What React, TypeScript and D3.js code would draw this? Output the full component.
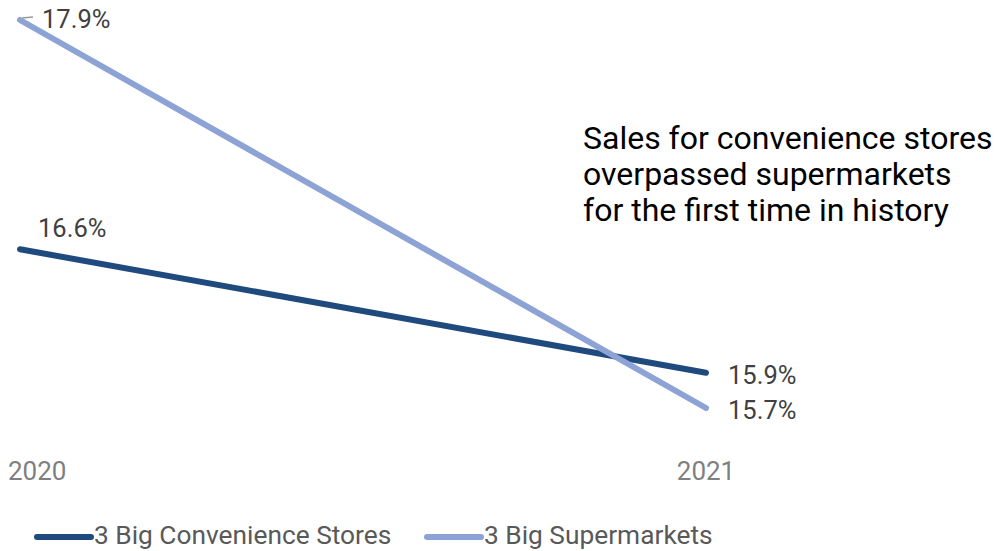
import React from "react";
import * as d3 from "d3";

const years = ["2020", "2021"];
const convenience = [16.6, 15.9];
const supermarkets = [17.9, 15.7];
const seriesNames = ["3 Big Convenience Stores", "3 Big Supermarkets"];
const annotation = [
  "Sales for convenience stores",
  "overpassed supermarkets",
  "for the first time in history",
];

const W = 997;
const H = 551;
const DARK = "#1f4a7e";
const LIGHT = "#8ea3d5";

export default function App() {
  const x = d3.scalePoint<string>().domain(years).range([20, 706]);
  const y = d3.scaleLinear().domain([17.9, 15.7]).range([20, 408]);
  const line = d3
    .line<number>()
    .x((_, i) => x(years[i]) as number)
    .y((d) => y(d));
  const series = [
    { name: seriesNames[0], values: convenience, color: DARK },
    { name: seriesNames[1], values: supermarkets, color: LIGHT },
  ];
  const fmt = (v: number) => v.toFixed(1) + "%";
  const font = "Roboto, 'Noto Sans', sans-serif";
  return (
    <svg
      width={W}
      height={H}
      style={{ position: "absolute", left: 0, top: 0, fontFamily: font }}
    >
      <rect width={W} height={H} fill="#fff" />
      {series.map((s) => (
        <path
          key={s.name}
          d={line(s.values) || ""}
          fill="none"
          stroke={s.color}
          strokeWidth={6}
          strokeLinecap="round"
        />
      ))}
      {/* leader for top label */}
      <line
        x1={x(years[0])! + 2}
        y1={y(supermarkets[0]) - 2}
        x2={x(years[0])! + 13}
        y2={y(supermarkets[0]) - 3}
        stroke="#999"
        strokeWidth={1.5}
      />
      {/* start labels */}
      <text x={42} y={y(supermarkets[0]) + 8} fontSize={25.5} fill="#404040">
        {fmt(supermarkets[0])}
      </text>
      <text x={38} y={y(convenience[0]) - 12} fontSize={25.5} fill="#404040">
        {fmt(convenience[0])}
      </text>
      {/* end labels */}
      <text x={728} y={y(convenience[1]) + 11} fontSize={25.5} fill="#404040">
        {fmt(convenience[1])}
      </text>
      <text x={728} y={y(supermarkets[1]) + 11} fontSize={25.5} fill="#404040">
        {fmt(supermarkets[1])}
      </text>
      {/* x axis labels */}
      {years.map((yr, i) => (
        <text
          key={yr}
          x={i === 0 ? 8 : x(yr)!}
          y={480}
          fontSize={26}
          fill="#7f7f7f"
          textAnchor={i === 0 ? "start" : "middle"}
        >
          {yr}
        </text>
      ))}
      {/* annotation */}
      {annotation.map((t, i) => (
        <text key={i} x={583} y={149 + i * 36} fontSize={32} fill="#000">
          {t}
        </text>
      ))}
      {/* legend */}
      {series.map((s, i) => {
        const lx = i === 0 ? 37 : 427;
        return (
          <g key={s.name}>
            <line
              x1={lx}
              y1={537}
              x2={lx + 54}
              y2={537}
              stroke={s.color}
              strokeWidth={6}
              strokeLinecap="round"
            />
            <text x={lx + 57} y={544} fontSize={26.3} fill="#595959">
              {s.name}
            </text>
          </g>
        );
      })}
    </svg>
  );
}
